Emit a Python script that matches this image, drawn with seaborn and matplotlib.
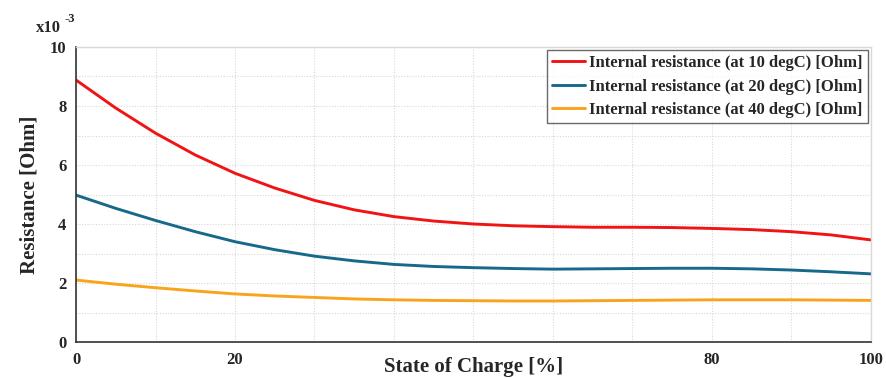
import matplotlib
matplotlib.use("Agg")
import matplotlib.pyplot as plt
import seaborn as sns
import pandas as pd
from matplotlib.ticker import MultipleLocator

soc = [0, 5, 10, 15, 20, 25, 30, 35, 40, 45, 50, 55, 60, 65, 70, 75, 80, 85, 90, 95, 100]
r10 = [8.88, 7.93, 7.08, 6.34, 5.72, 5.22, 4.80, 4.48, 4.25, 4.10, 4.00, 3.94, 3.91, 3.89, 3.89, 3.88, 3.85, 3.81, 3.74, 3.63, 3.46]
r20 = [4.98, 4.53, 4.12, 3.74, 3.40, 3.13, 2.91, 2.75, 2.63, 2.56, 2.52, 2.49, 2.47, 2.48, 2.49, 2.50, 2.50, 2.48, 2.44, 2.38, 2.31]
r40 = [2.10, 1.96, 1.84, 1.73, 1.63, 1.56, 1.51, 1.46, 1.43, 1.41, 1.40, 1.39, 1.39, 1.40, 1.41, 1.42, 1.43, 1.43, 1.43, 1.42, 1.41]
labels = ["Internal resistance (at 10 degC) [Ohm]",
          "Internal resistance (at 20 degC) [Ohm]",
          "Internal resistance (at 40 degC) [Ohm]"]
xticks = [0, 20, 40, 60, 80, 100]
xticklabels = ["0", "20", "", "", "80", "100"]
colors = ["#f01414", "#17698c", "#f8a51c"]

df = pd.concat([
    pd.DataFrame({"soc": soc, "r": vals, "series": lab})
    for vals, lab in zip([r10, r20, r40], labels)
])

sns.set_style("white")
plt.rcParams["font.family"] = ["Liberation Serif", "DejaVu Serif"]
plt.rcParams["font.weight"] = "bold"

fig = plt.figure(figsize=(8.86, 3.79), dpi=100)
ax = fig.add_axes([0.0858, 0.0976, 0.8972, 0.7784])

sns.lineplot(data=df, x="soc", y="r", hue="series", palette=colors,
             linewidth=2.1, ax=ax, legend=True)

ax.set_xlim(0, 100)
ax.set_ylim(0, 10)
ax.set_xticks(xticks)
ax.set_xticklabels(xticklabels)
ax.xaxis.set_minor_locator(MultipleLocator(10))
ax.yaxis.set_major_locator(MultipleLocator(2))
ax.yaxis.set_minor_locator(MultipleLocator(1))
ax.grid(which="both", color="#d8d8d8", linestyle=(0, (1, 1.5)), linewidth=0.8)
ax.set_axisbelow(True)

ax.tick_params(axis="both", which="major", direction="out", length=5, width=1,
               color="#333333", labelsize=12, pad=2)
ax.tick_params(axis="both", which="minor", direction="inout", length=4, width=1,
               color="#333333")
for lab in ax.get_xticklabels() + ax.get_yticklabels():
    lab.set_fontweight("bold")

for s in ["left", "bottom"]:
    ax.spines[s].set_color("#333333")
    ax.spines[s].set_linewidth(1.2)
for s in ["top", "right"]:
    ax.spines[s].set_color("#d8d8d8")
    ax.spines[s].set_linewidth(1.0)

ax.set_xlabel("State of Charge [%]", fontsize=15, fontweight="bold")
ax.xaxis.set_label_coords(0.5, -0.052)
ax.xaxis.label.set_va("top")
ax.set_ylabel("Resistance [Ohm]", fontsize=15, fontweight="bold", labelpad=7)

ax.text(-0.051, 1.052, "x10", transform=ax.transAxes, fontsize=12, fontweight="bold",
        ha="left", va="baseline")
ax.text(-0.0145, 1.085, "-3", transform=ax.transAxes, fontsize=9, fontweight="bold",
        ha="left", va="baseline")

leg = ax.legend(loc="upper right", frameon=True, fancybox=False, fontsize=12,
                handlelength=2.0, handletextpad=0.25, borderpad=0.3,
                labelspacing=0.45, borderaxespad=0.2)
leg.set_title(None)
leg.get_frame().set_edgecolor("#444444")
leg.get_frame().set_linewidth(1.0)
for t in leg.get_texts():
    t.set_fontweight("bold")

fig.savefig("out.png", dpi=100)
